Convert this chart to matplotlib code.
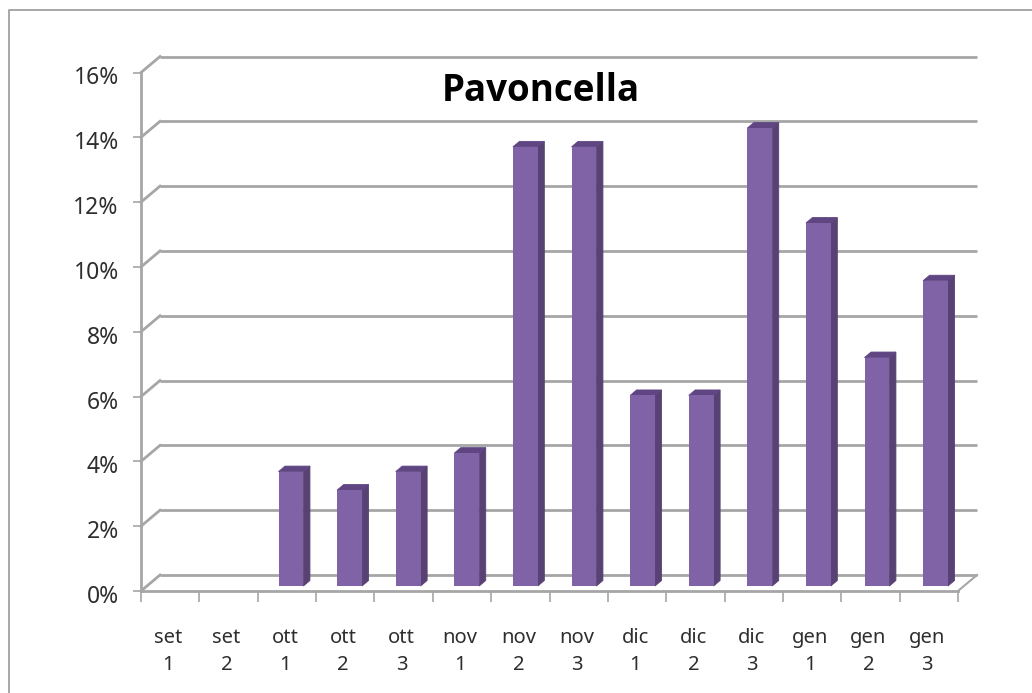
#Pavoncella chart, fake 3D columns like the Excel one
import matplotlib
matplotlib.use("Agg")
import matplotlib.pyplot as plt
from matplotlib.lines import Line2D
from matplotlib.transforms import Affine2D

W, H = 1032, 693
labels = ["set\n1", "set\n2", "ott\n1", "ott\n2", "ott\n3", "nov\n1", "nov\n2", "nov\n3",
          "dic\n1", "dic\n2", "dic\n3", "gen\n1", "gen\n2", "gen\n3"]
values = [0, 0, 3.53, 2.96, 3.53, 4.1, 13.55, 13.55, 5.88, 5.88, 14.13, 11.2, 7.05, 9.42]
yticks = [0, 2, 4, 6, 8, 10, 12, 14, 16]

plt.rcParams["font.family"] = ["Noto Sans", "DejaVu Sans"]
grey = "#a6a6a6"
front = "#8062a6"
side = "#584274"
top = "#5f4683"
text_col = "#2e2e2e"

fig = plt.figure(figsize=(W / 100, H / 100), dpi=100)
ax = fig.add_axes([141 / W, 1 - 591 / H, (958 - 141) / W, (591 - 72.5) / H])
ax.set_xlim(0, 14)
ax.set_ylim(0, 16)
for s in ax.spines.values():
    s.set_visible(False)
ax.patch.set_visible(False)

# back wall and floor are shifted from the front plane, in pixels
back = ax.transData + Affine2D().translate(19, 16)
# columns sit a bit further apart than the ticks
spread = Affine2D().translate(-141, 0).scale(58.6 / 58.36, 1).translate(141, 0)
lift = ax.transData + spread + Affine2D().translate(3.5, 5)
depth = ax.transData + spread + Affine2D().translate(10, 10.5)

for y in yticks:
    ax.plot([0, 14], [y, y], color=grey, lw=2, transform=back, clip_on=False,
            solid_capstyle="butt", zorder=1)
    # diagonal from the front axis to the wall
    p0 = ax.transData.transform((0, y))
    p1 = back.transform((0, y))
    ax.plot([p0[0], p1[0]], [p0[1], p1[1]], color=grey, lw=2, transform=None,
            clip_on=False, zorder=1)

# front edges of the floor
ax.plot([0, 0], [0, 16], color=grey, lw=2, clip_on=False, zorder=1)
ax.plot([0, 14], [0, 0], color=grey, lw=2, clip_on=False, zorder=1)
p0 = ax.transData.transform((14, 0))
p1 = back.transform((14, 0))
ax.plot([p0[0], p1[0]], [p0[1], p1[1]], color=grey, lw=1.5, transform=None, clip_on=False, zorder=1)

bar_w = 0.425
for i, v in enumerate(values):
    if v == 0:
        continue
    x0 = i + 0.5 - bar_w / 2
    x1 = x0 + bar_w
    ax.bar(i + 0.5, v, width=bar_w, color=front, transform=lift, clip_on=False, zorder=4)
    # right side and top face
    a = lift.transform([(x1, 0), (x1, v), (x0, v)])
    b = depth.transform([(x1, 0), (x1, v), (x0, v)])
    ax.fill([a[0][0], b[0][0], b[1][0], a[1][0]], [a[0][1], b[0][1], b[1][1], a[1][1]],
            color=side, lw=0.6, transform=None, clip_on=False, zorder=3)
    ax.fill([a[2][0], b[2][0], b[1][0], a[1][0]], [a[2][1], b[2][1], b[1][1], a[1][1]],
            color=top, lw=0.6, transform=None, clip_on=False, zorder=3)

ax.set_yticks(yticks)
ax.set_yticklabels([str(y) + "%" for y in yticks], fontsize=16.5, color=text_col)
ax.set_xticks(range(15))
ax.set_xticklabels([""] * 15)
ax.tick_params(axis="x", length=8, width=1.2, color=grey, direction="out")
ax.tick_params(axis="y", length=6, width=1.2, color=grey, direction="out", pad=10)
# the y labels hang a little below their ticks
for t in ax.get_yticklabels():
    t.set_transform(t.get_transform() + Affine2D().translate(0, -3))
for i, l in enumerate(labels):
    ax.annotate(l, (i + 0.5, 0), xytext=(-2, -37), textcoords="offset pixels", ha="center", va="top",
                fontsize=14.5, color=text_col, linespacing=1.5, annotation_clip=False)

fig.text(541 / W, 1 - 91 / H, "Pavoncella", fontsize=26.5, fontweight="bold", color="black",
         family=["Open Sans", "DejaVu Sans"], ha="center", va="center")
# only top and left of the chart border are in the picture
fig.add_artist(Line2D([8.5 / W, 8.5 / W, 1], [0, 1 - 10 / H, 1 - 10 / H], color="#a0a0a0", lw=1.3,
                      transform=fig.transFigure))

fig.savefig("out.png", dpi=100)
